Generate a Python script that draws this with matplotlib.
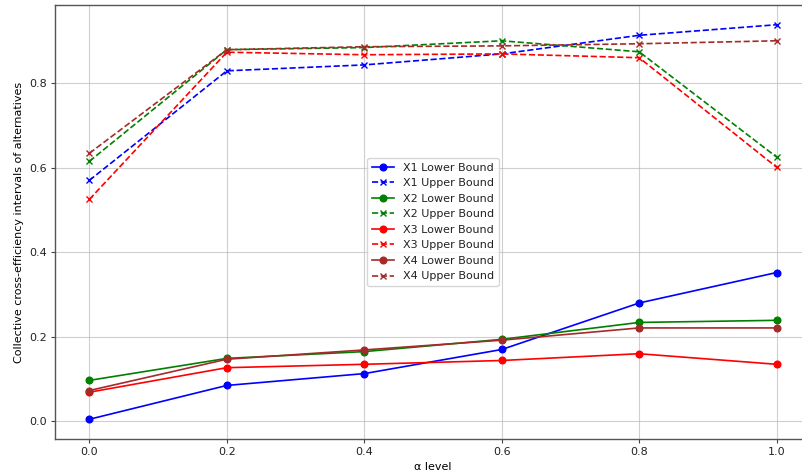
import numpy as np
import matplotlib
matplotlib.use("Agg")
import matplotlib.pyplot as plt

# alpha-Schnitte
alpha_levels = [0.0, 0.2, 0.4, 0.6, 0.8, 1.0]

# untere / obere Grenzen der kollektiven Kreuzeffizienz je Alternative
x1_lower = [0.005, 0.085, 0.113, 0.170, 0.280, 0.352]
x1_upper = [0.570, 0.829, 0.843, 0.869, 0.913, 0.938]
x2_lower = [0.097, 0.149, 0.165, 0.194, 0.234, 0.239]
x2_upper = [0.615, 0.879, 0.884, 0.900, 0.874, 0.625]
x3_lower = [0.069, 0.127, 0.135, 0.144, 0.160, 0.135]
x3_upper = [0.525, 0.873, 0.867, 0.869, 0.860, 0.601]
x4_lower = [0.073, 0.147, 0.169, 0.192, 0.221, 0.221]
x4_upper = [0.634, 0.879, 0.886, 0.888, 0.893, 0.900]

names = ["X1", "X2", "X3", "X4"]
colors = ["blue", "green", "red", "brown"]
lowers = [x1_lower, x2_lower, x3_lower, x4_lower]
uppers = [x1_upper, x2_upper, x3_upper, x4_upper]

plt.rcParams.update({
    "font.size": 8,
    "lines.linewidth": 1.2,
    "lines.markersize": 4.8,
    "xtick.major.size": 2.8,
    "ytick.major.size": 2.8,
    "xtick.major.pad": 2.8,
    "ytick.major.pad": 2.8,
    "axes.linewidth": 1.0,
    "axes.edgecolor": "#555555",
    "text.color": "#222222",
    "xtick.color": "#444444",
    "ytick.color": "#444444",
    "xtick.labelcolor": "#222222",
    "ytick.labelcolor": "#222222",
})

fig = plt.figure(figsize=(8.03, 4.74), dpi=100)
# Achse ragt rechts über den Bildrand hinaus
ax = fig.add_axes([55 / 803, 35 / 474, (811 - 55) / 803, (439 - 5) / 474])

for name, c, lo, up in zip(names, colors, lowers, uppers):
    ax.plot(alpha_levels, lo, marker='o', linestyle='-', color=c, label=f"{name} Lower Bound")
    ax.plot(alpha_levels, up, marker='x', linestyle='--', color=c, label=f"{name} Upper Bound")

ax.set_xlabel("α level")
ax.set_ylabel("Collective cross-efficiency intervals of alternatives")
ax.set_xticks(alpha_levels)
ax.set_yticks([0.0, 0.2, 0.4, 0.6, 0.8])
ax.spines['right'].set_visible(False)
ax.grid(True, alpha=0.6)
ax.legend(loc='center')

plt.savefig("out.png", dpi=100)
